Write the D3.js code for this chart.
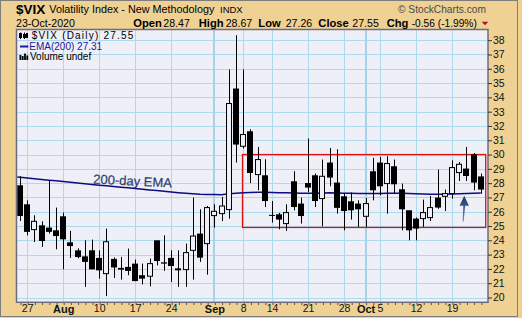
<!DOCTYPE html>
<html><head><meta charset="utf-8">
<script src="https://cdn.jsdelivr.net/npm/d3@7"></script>
<style>
html,body{margin:0;padding:0;background:#efd193;}
svg{display:block;}
text{font-family:"Liberation Sans",Arial,sans-serif;}
</style></head><body>
<svg id="c" width="522" height="318"></svg>
<script>
// ---------- data ----------
const dates = ["2020-07-23","2020-07-24","2020-07-27","2020-07-28","2020-07-29","2020-07-30","2020-07-31",
"2020-08-03","2020-08-04","2020-08-05","2020-08-06","2020-08-07","2020-08-10","2020-08-11","2020-08-12","2020-08-13","2020-08-14",
"2020-08-17","2020-08-18","2020-08-19","2020-08-20","2020-08-21","2020-08-24","2020-08-25","2020-08-26","2020-08-27","2020-08-28",
"2020-08-31","2020-09-01","2020-09-02","2020-09-03","2020-09-04","2020-09-08","2020-09-09","2020-09-10","2020-09-11",
"2020-09-14","2020-09-15","2020-09-16","2020-09-17","2020-09-18","2020-09-21","2020-09-22","2020-09-23","2020-09-24","2020-09-25",
"2020-09-28","2020-09-29","2020-09-30","2020-10-01","2020-10-02","2020-10-05","2020-10-06","2020-10-07","2020-10-08","2020-10-09",
"2020-10-12","2020-10-13","2020-10-14","2020-10-15","2020-10-16","2020-10-19","2020-10-20","2020-10-21","2020-10-22","2020-10-23"];
const open = [null,27.85,26.52,24.75,25.05,24.89,24.70,25.68,23.86,23.30,22.88,23.30,22.77,21.67,22.70,22.07,22.14,22.37,21.56,21.49,24.00,22.46,22.77,22.04,21.95,23.30,24.47,23.77,25.73,25.87,26.15,34.62,30.58,31.63,28.60,28.55,25.78,25.82,25.17,28.13,26.57,28.01,28.55,26.92,29.44,28.04,27.08,26.73,26.57,25.68,28.83,29.44,27.97,29.18,27.57,26.10,25.52,25.52,25.59,26.99,27.08,27.27,28.74,29.02,30.02,28.47];
const high = [null,28.48,26.80,25.75,25.33,28.20,26.29,25.94,24.66,23.44,24.00,24.05,23.30,24.82,22.80,22.84,23.42,22.65,22.37,22.72,24.00,24.35,23.30,23.30,23.77,26.99,26.17,26.40,26.52,27.03,35.95,38.35,35.95,31.77,30.53,29.67,26.75,25.92,26.52,28.83,26.99,31.12,28.67,29.65,30.46,30.37,27.27,27.34,26.80,26.96,29.77,29.84,29.88,29.65,27.97,26.10,25.60,26.85,27.10,28.95,27.55,29.60,29.48,30.53,30.10,28.67];
const low = [null,25.35,24.35,23.88,23.54,24.47,23.37,21.97,22.77,22.74,20.74,21.97,21.32,20.10,21.37,21.25,21.56,21.14,20.92,20.78,22.25,21.86,21.09,20.74,20.74,21.25,22.49,21.60,24.89,25.35,25.52,29.44,30.42,28.01,27.50,26.33,25.24,24.77,24.66,26.10,25.17,27.38,26.33,24.98,27.78,25.87,24.70,25.45,24.94,24.94,26.80,27.15,25.87,27.27,24.70,24.00,24.00,24.94,25.35,26.20,26.05,26.92,28.15,28.15,27.50,27.26];
const close = [null,25.70,24.59,25.33,23.95,24.59,24.30,24.07,23.60,22.83,22.49,21.97,21.90,23.90,22.10,21.95,21.86,21.15,21.32,22.37,22.55,22.37,22.20,21.90,23.14,24.30,22.79,26.29,26.03,26.40,33.57,30.70,31.40,28.71,29.65,26.75,25.72,25.45,25.94,26.33,25.70,27.69,26.75,28.48,28.39,26.27,26.05,26.10,26.17,26.57,27.50,27.78,29.37,27.92,26.17,24.70,24.82,25.94,26.29,26.29,27.27,29.09,29.32,28.50,28.04,27.55];
const ema200 = [28.46,28.41,28.36,28.31,28.26,28.21,28.16,28.11,28.06,28.01,27.96,27.91,27.86,27.82,27.77,27.72,27.67,27.62,27.57,27.52,27.48,27.43,27.38,27.33,27.29,27.26,27.22,27.21,27.20,27.19,27.25,27.29,27.33,27.34,27.36,27.36,27.35,27.33,27.32,27.31,27.30,27.30,27.30,27.31,27.32,27.31,27.30,27.29,27.28,27.27,27.27,27.28,27.29,27.30,27.29,27.27,27.25,27.24,27.23,27.22,27.22,27.24,27.26,27.28,27.30,27.31];
const yTicks = [20,21,22,23,24,25,26,27,28,29,30,31,32,33,34,35,36,37,38];
const tickDates = ["2020-07-27","2020-08-03","2020-08-10","2020-08-17","2020-08-24","2020-09-01","2020-09-08","2020-09-14","2020-09-21","2020-09-28","2020-10-01","2020-10-05","2020-10-12","2020-10-19"];
const tickLabels = ["27","Aug","10","17","24","Sep","8","14","21","28","Oct","5","12","19"];
const monthDates = ["2020-08-03","2020-09-01","2020-10-01"];
const thickGrid = ["2020-09-01","2020-10-01"];
const boxRange = {from:"2020-09-08", to:"2020-10-23", top:30, bottom:24.9};

// ---------- layout ----------
const svg = d3.select("#c");
const P = {l:16.5, t:29.5, r:488, b:302.3};
const BG = "#eeeff7";
svg.append("rect").attr("x",0.5).attr("y",0.5).attr("width",517).attr("height",316)
  .attr("fill","#efd193").attr("stroke","#7d7d7d");

const x = d3.scalePoint().domain(dates).range([12.8, 480.8]);
const step = x.step();
const y = d3.scaleLinear().domain([20,38]).range([297.5,40.2]);
const cx = d => Math.round(x(d)) + 0.5;

svg.append("rect").attr("x",P.l).attr("y",P.t).attr("width",P.r-P.l).attr("height",P.b-P.t).attr("fill",BG);

const defs = svg.append("defs");
defs.append("clipPath").attr("id","clip").append("rect")
  .attr("x",P.l+0.7).attr("y",P.t+0.7).attr("width",P.r-P.l-1.4).attr("height",P.b-P.t-1.4);
const ag = defs.append("linearGradient").attr("id","arrowg").attr("x1",0).attr("x2",0).attr("y1",0).attr("y2",1);
ag.append("stop").attr("offset","0%").attr("stop-color","#1b3766");
ag.append("stop").attr("offset","100%").attr("stop-color","#6c88ad");

const g = svg.append("g").attr("clip-path","url(#clip)");
// horizontal grid
g.selectAll("line.hg").data(yTicks).join("line")
  .attr("x1",P.l).attr("x2",P.r)
  .attr("y1",d=>Math.round(y(d))+0.5).attr("y2",d=>Math.round(y(d))+0.5)
  .attr("stroke","#acd9ec").attr("stroke-width",1);
// vertical grid
g.selectAll("line.vg").data(tickDates).join("line")
  .attr("x1",d=>thickGrid.includes(d)?Math.round(x(d)):cx(d))
  .attr("x2",d=>thickGrid.includes(d)?Math.round(x(d)):cx(d))
  .attr("y1",P.t).attr("y2",P.b)
  .attr("stroke",d=>thickGrid.includes(d)?"#a2d3ea":"#acd9ec")
  .attr("stroke-width",d=>thickGrid.includes(d)?2:1);

// red box
g.append("rect")
  .attr("x",x(boxRange.from)-0.7).attr("y",y(boxRange.top))
  .attr("width",x(boxRange.to)+4.9-(x(boxRange.from)-0.7))
  .attr("height",y(boxRange.bottom)-y(boxRange.top))
  .attr("fill","none").attr("stroke","#e01010").attr("stroke-width",1.3);

// EMA line
const emaData = dates.map((d,i)=>({d, v:ema200[i]}));
g.append("path").datum(emaData)
  .attr("d", d3.line().x(p=>x(p.d)).y(p=>y(p.v)))
  .attr("fill","none").attr("stroke","#0c0c84").attr("stroke-width",1.5);

// candles
const candles = dates.map((d,i)=>({d,o:open[i],h:high[i],l:low[i],c:close[i]})).filter(c=>c.o!=null);
g.selectAll("line.wick").data(candles).join("line")
  .attr("x1",c=>cx(c.d)).attr("x2",c=>cx(c.d))
  .attr("y1",c=>y(c.h)).attr("y2",c=>y(c.l))
  .attr("stroke","#000").attr("stroke-width",1);
g.selectAll("rect.body").data(candles).join("rect")
  .attr("x",c=> c.c>=c.o ? cx(c.d)-3 : cx(c.d)-3.5)
  .attr("width",c=> c.c>=c.o ? 5 : 6)
  .attr("y",c=>y(Math.max(c.o,c.c)))
  .attr("height",c=>Math.max(1, Math.abs(y(c.o)-y(c.c))))
  .attr("fill",c=> c.c>=c.o ? BG : "#000")
  .attr("stroke",c=> c.c>=c.o ? "#000" : "none")
  .attr("stroke-width",1);

// EMA label
const lx = x("2020-08-07")+1, ly = y(27.98);
svg.append("text").attr("transform",`translate(${lx},${ly}) rotate(3)`)
  .attr("font-size",13).attr("fill","#2b3d6b").attr("stroke","#2b3d6b").attr("stroke-width",0.2)
  .text("200-day EMA");

// arrow annotation
const ax = x("2020-10-20") + 0.7*step;
const tipY = y(27.12), baseY = y(26.42), botY = y(25.32);
svg.append("path")
  .attr("d",`M${ax},${tipY} L${ax+4.7},${baseY} L${ax+0.9},${baseY} L${ax-0.6},${botY} L${ax-1.6},${botY} L${ax-0.9},${baseY} L${ax-4.7},${baseY} Z`)
  .attr("fill","url(#arrowg)");

// frame
svg.append("rect").attr("x",P.l).attr("y",P.t).attr("width",P.r-P.l).attr("height",P.b-P.t)
  .attr("fill","none").attr("stroke","#6c6c7e").attr("stroke-width",1.5);

// y axis
const ya = svg.append("g").attr("transform",`translate(${P.r},0)`)
  .call(d3.axisRight(y).tickValues(yTicks).tickSize(4).tickPadding(1).tickFormat(d3.format("d")));
ya.select(".domain").remove();
ya.selectAll("line").attr("stroke","#333");
ya.selectAll("text").attr("font-size",10.5).attr("fill","#111").attr("font-family","Liberation Sans, Arial, sans-serif");

// x axis: minor daily ticks
const xm = svg.append("g").attr("transform",`translate(0.5,${P.b+0.7})`)
  .call(d3.axisBottom(x).tickValues(dates.filter(d=>x(d)>P.l+1)).tickSize(2).tickFormat(""));
xm.select(".domain").remove();
xm.selectAll("line").attr("stroke","#555");
// x labels
const labelOf = d3.scaleOrdinal().domain(tickDates).range(tickLabels);
const xl = svg.append("g").attr("transform",`translate(0,${P.b})`)
  .call(d3.axisBottom(x).tickValues(tickDates).tickSize(0).tickPadding(2.5).tickFormat(d=>labelOf(d)));
xl.select(".domain").remove();
xl.selectAll("text").attr("font-family","Liberation Sans, Arial, sans-serif").attr("fill","#111")
  .attr("font-size",d=>monthDates.includes(d)?11:10.5)
  .attr("font-weight",d=>monthDates.includes(d)?"bold":"normal");

// ---------- header ----------
function t(xp, yp, txt, opts={}) {
  const e = svg.append("text").attr("x",xp).attr("y",yp).text(txt)
    .attr("font-size",opts.size||10.7).attr("fill",opts.fill||"#000");
  if (opts.bold) e.attr("font-weight","bold");
  if (opts.ls) e.attr("letter-spacing",opts.ls);
  if (opts.family) e.attr("font-family",opts.family);
  return e;
}
t(16,13.5,"$VIX",{size:13.5,bold:true});
t(49.3,12.6,"Volatility Index - New Methodology",{size:10.8});
t(220,12.6,"INDX",{size:9.5});
t(398,12.6,"© StockCharts.com",{size:10.2,fill:"#4a4a4a"});
t(16,26.7,"23-Oct-2020",{size:10.6});
t(133.3,26.7,"Open",{size:11.2,bold:true});
t(163.3,26.7,"28.47",{size:10.6});
t(198.7,26.7,"High",{size:11.2,bold:true});
t(225.7,26.7,"28.67",{size:10.6});
t(258.3,26.7,"Low",{size:11.2,bold:true});
t(285.7,26.7,"27.26",{size:10.6});
t(318.3,26.7,"Close",{size:11.2,bold:true});
t(352.3,26.7,"27.55",{size:10.6});
t(386.7,26.7,"Chg",{size:11.2,bold:true});
t(411.7,26.7,"-0.56 (-1.99%)",{size:10.2});
svg.append("path").attr("d","M481.7,21.8 L488.3,21.8 L485,25.2 Z").attr("fill","#b0102a");

// legend inside plot
t(31.7,38.8,"$VIX (Daily) 27.55",{size:10,ls:1.2});
t(29.3,49.6,"EMA(200) 27.31",{size:10,fill:"#1a1a9a"});
t(30,60.3,"Volume undef",{size:10});
// legend icons
svg.append("line").attr("x1",20).attr("x2",28.3).attr("y1",46.5).attr("y2",46.5).attr("stroke","#1a1a9a").attr("stroke-width",2);
const ic = svg.append("g").attr("fill","#000").attr("stroke","#000").attr("stroke-width",1);
ic.append("rect").attr("x",19.5).attr("y",33.5).attr("width",2).attr("height",4);
ic.append("line").attr("x1",20.5).attr("x2",20.5).attr("y1",32.5).attr("y2",39);
ic.append("rect").attr("x",23.5).attr("y",34.5).attr("width",2).attr("height",3).attr("fill",BG);
ic.append("line").attr("x1",24.5).attr("x2",24.5).attr("y1",32.5).attr("y2",39);
ic.append("rect").attr("x",26.5).attr("y",33.5).attr("width",1).attr("height",4);
const vb = [[19.5,55,5],[21.8,56,4],[24.1,53.5,6.5],[26.4,55.5,4.5]];
svg.selectAll("rect.vb").data(vb).join("rect").attr("x",d=>d[0]).attr("y",d=>d[1]).attr("width",1.8).attr("height",d=>d[2]).attr("fill","#000");
</script>
</body></html>
